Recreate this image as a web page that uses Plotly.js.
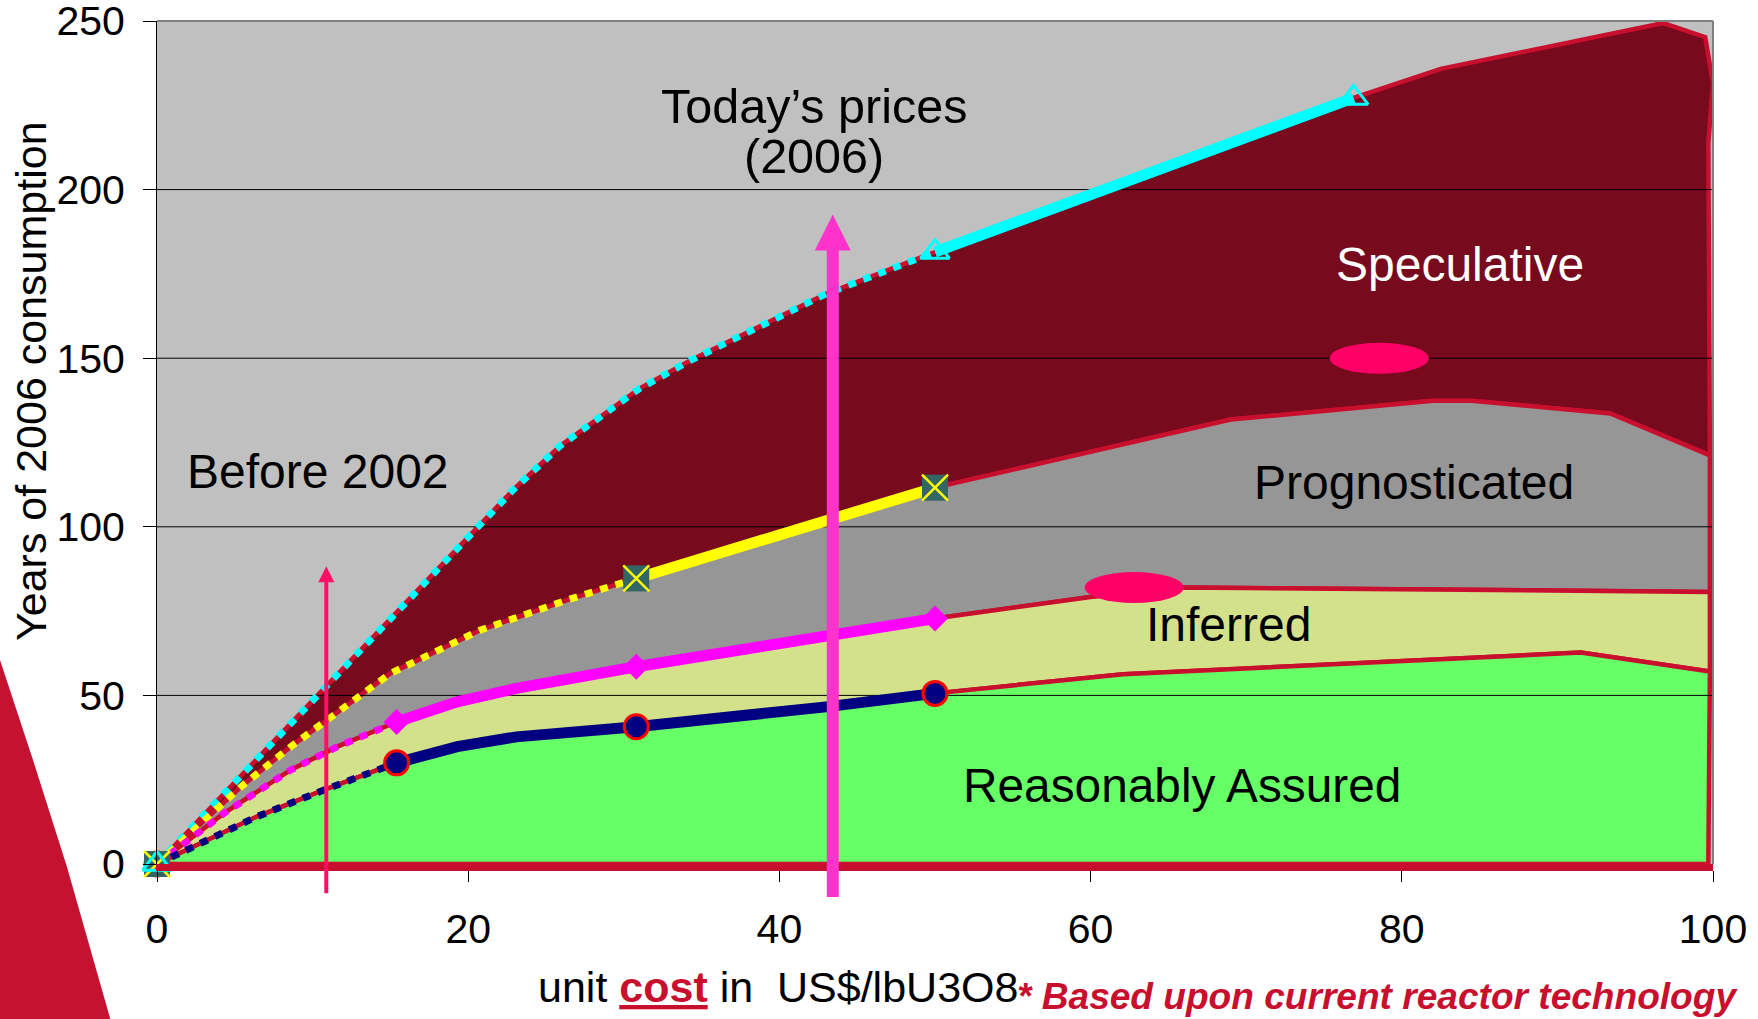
<!DOCTYPE html>
<html><head><meta charset="utf-8">
<script src="https://cdn.plot.ly/plotly-3.0.1.min.js"></script>
<style>html,body{margin:0;padding:0;background:#fff;} #chart{width:1758px;height:1019px;}</style>
</head><body><div id="chart"></div>
<script>
// ---------------- data ----------------
const xTicks = [0, 20, 40, 60, 80, 100];
const yTicks = [0, 50, 100, 150, 200, 250];
const gridYears = [50, 100, 150, 200];

// Reasonably Assured (blue, cumulative years)
const raX = [0, 6.4, 10.7, 15.4, 19.3, 23.1, 30.8, 43.0, 50.0];
const raY = [0, 14.0, 21.9, 30.0, 34.8, 37.7, 40.7, 46.6, 50.6];
const raMarkX = [0, 15.4, 30.8, 50.0];
const raExtX = [62.1, 91.5, 99.8];
const raExtY = [56.3, 62.7, 57.1];
const raBaseX = [0, 99.7];
const raBaseY = [0, 0];

// Inferred (magenta)
const infX = [0, 4.3, 8.6, 11.6, 15.4, 19.3, 23.1, 30.8, 50.0];
const infY = [0, 15.0, 27.9, 34.8, 42.1, 48.1, 52.1, 58.5, 72.8];
const infMarkX = [0, 15.4, 30.8, 50.0];
const infExtX = [60.0, 66.0, 81.8, 99.8];
const infExtY = [79.2, 82.0, 81.4, 80.7];

// Prognosticated (yellow)
const progX = [0, 5.4, 8.6, 15.0, 20.8, 23.0, 26.5, 30.8, 50.0];
const progY = [0, 22.9, 34.8, 56.5, 69.4, 73.0, 78.5, 84.7, 111.6];
const progMarkX = [0, 30.8, 50.0];
const progExtX = [69.0, 82.0, 84.5, 93.4, 99.8];
const progExtY = [131.8, 137.4, 137.4, 133.6, 121.2];

// Speculative (cyan)
const specX = [0, 7.5, 15.0, 22.9, 25.9, 31.0, 34.3, 43.0, 50.0, 76.9];
const specY = [0, 36.5, 73.0, 111.0, 124.0, 141.0, 149.4, 169.1, 181.5, 227.2];
const specMarkX = [0, 50.0, 76.9];
const specExtX = [82.5, 96.8, 99.5, 100.0, 99.7, 99.8];
const specExtY = [235.8, 249.4, 245.2, 231.5, 213.7, 121.2];

// price arrows (before 2002, today 2006) and highlight ellipses
const priceX = [10.88, 43.43];
const priceTopY = [88.3, 192.6];
const priceTailY = [-8.7, -9.8];
const ellipseX = [78.55, 62.8];
const ellipseY = [150.0, 82.0];

// ---------------- geometry helpers ----------------
const W = 1758, Hh = 1019;
const M = {l: 157, r: 45, t: 21, b: 155};
const PW = W - M.l - M.r, PH = Hh - M.t - M.b;
const XR = [0, 100], YR = [0, 250];
const pxX = px => (px - M.l) / PW;
const pxY = py => (M.t + PH - py) / PH;
const dX = x => (x - XR[0]) / (XR[1] - XR[0]);
const dY = y => (y - YR[0]) / (YR[1] - YR[0]);
const pxToDX = w => w / PW * (XR[1] - XR[0]);
const pxToDY = h => h / PH * (YR[1] - YR[0]);

const cat = (a, b) => a.concat(b);
const raTopX = cat(raX, raExtX), raTopY = cat(raY, raExtY);
const infTopX = cat(infX, infExtX), infTopY = cat(infY, infExtY);
const progTopX = cat(progX, progExtX), progTopY = cat(progY, progExtY);
const specTopX = cat(specX, specExtX), specTopY = cat(specY, specExtY);

function poly(tx, ty, lx, ly) {
  return {x: tx.concat(lx.slice().reverse()), y: ty.concat(ly.slice().reverse())};
}
const OUTLINE = '#C8102E';
function area(p, fill) {
  return {type: 'scatter', mode: 'lines', x: p.x, y: p.y, fill: 'toself',
    fillcolor: fill, line: {color: OUTLINE, width: 4.5}, hoverinfo: 'skip'};
}
function seg(x, y, x0, x1, color, dotted) {
  const xs = [], ys = [];
  x.forEach((v, i) => { if (v >= x0 - 1e-9 && v <= x1 + 1e-9) { xs.push(v); ys.push(y[i]); } });
  return {type: 'scatter', mode: 'lines', x: xs, y: ys, hoverinfo: 'skip',
    line: dotted ? {color: color, width: 7, dash: '8px,8px'} : {color: color, width: 11}};
}
function marks(x, y, mx, marker) {
  const ys = mx.map(v => y[x.findIndex(q => Math.abs(q - v) < 1e-9)]);
  return {type: 'scatter', mode: 'markers', x: mx, y: ys, marker: marker,
    cliponaxis: false, hoverinfo: 'skip'};
}

const gx = [], gy = [];
gridYears.forEach(g => { gx.push(XR[0], XR[1], null); gy.push(g, g, null); });

const traces = [
  area(poly(specTopX, specTopY, progTopX, progTopY), '#780A1E'),
  area(poly(progTopX, progTopY, infTopX, infTopY), '#969696'),
  area(poly(infTopX, infTopY, raTopX, raTopY), '#D3E18A'),
  area(poly(raTopX, raTopY, raBaseX, raBaseY), '#66FF66'),
  {type: 'scatter', mode: 'lines', x: gx, y: gy, line: {color: '#000', width: 1}, hoverinfo: 'skip'},
  seg(specX, specY, 0, 50, '#00FFFF', true),
  seg(progX, progY, 0, 30.8, '#FFFF00', true),
  seg(infX, infY, 0, 15.4, '#FF00FF', true),
  seg(raX, raY, 0, 15.4, '#000080', true),
  seg(specX, specY, 50, 76.9, '#00FFFF', false),
  seg(progX, progY, 30.8, 50, '#FFFF00', false),
  seg(infX, infY, 15.4, 50, '#FF00FF', false),
  seg(raX, raY, 15.4, 50, '#000080', false),
  marks(raX, raY, raMarkX, {symbol: 'circle', size: 24, color: '#000080', line: {color: '#FF0000', width: 3}}),
  marks(infX, infY, infMarkX, {symbol: 'diamond', size: 20, color: '#FF00FF', line: {width: 0}}),
  marks(progX, progY, progMarkX, {symbol: 'square', size: 26, color: '#336666', line: {width: 0}}),
  marks(progX, progY, progMarkX, {symbol: 'x-thin-open', size: 26, color: '#FFFF00', line: {color: '#FFFF00', width: 2.5}}),
  marks(specX, specY, specMarkX, {symbol: 'triangle-up-open', size: 25, color: '#00FFFF', line: {color: '#00FFFF', width: 3}})
];

// ---------------- shapes ----------------
const shapes = [];
// decorative corner band
const bandPx = [[0, 660], [33, 760], [67, 867], [112, 1025], [0, 1025]];
shapes.push({type: 'path', xref: 'paper', yref: 'paper', layer: 'above',
  path: 'M' + bandPx.map(p => pxX(p[0]) + ',' + pxY(p[1])).join('L') + 'Z',
  fillcolor: '#C41230', line: {width: 0}});
// borders top / right
shapes.push({type: 'line', xref: 'paper', yref: 'paper', x0: 0, x1: 1, y0: 1, y1: 1, line: {color: '#808080', width: 2}});
shapes.push({type: 'line', xref: 'paper', yref: 'paper', x0: 1, x1: 1, y0: 0, y1: 1, line: {color: '#808080', width: 2}});
// ellipses
const EW = pxToDX(99), EH = pxToDY(31);
ellipseX.forEach((cx, i) => shapes.push({type: 'circle', xref: 'x', yref: 'y', layer: 'above',
  x0: cx - EW / 2, x1: cx + EW / 2, y0: ellipseY[i] - EH / 2, y1: ellipseY[i] + EH / 2,
  fillcolor: '#FF0066', line: {width: 0}}));
// arrows
const arrowStyle = [{color: '#FF1066', shaft: 4, head: 16}, {color: '#FF33CC', shaft: 12, head: 36}];
priceX.forEach((x, i) => {
  const s = arrowStyle[i];
  const px = dX(x), tip = dY(priceTopY[i]), tail = dY(priceTailY[i]);
  const hw = s.head / 2 / PW, hh = s.head / PH;
  shapes.push({type: 'line', xref: 'paper', yref: 'paper', x0: px, x1: px, y0: tail, y1: tip - hh + 1 / PH,
    line: {color: s.color, width: s.shaft}});
  shapes.push({type: 'path', xref: 'paper', yref: 'paper',
    path: `M${px - hw},${tip - hh}L${px + hw},${tip - hh}L${px},${tip}Z`,
    fillcolor: s.color, line: {width: 0}});
});

// ---------------- annotations ----------------
const FONT = 'Liberation Sans, Arial, sans-serif';
function lab(text, x, y, size, color, extra) {
  return Object.assign({text: text, xref: 'paper', yref: 'paper', x: pxX(x), y: pxY(y),
    showarrow: false, xanchor: 'center', yanchor: 'middle',
    font: {family: FONT, size: size, color: color || '#000'}}, extra || {});
}
const annotations = [
  lab('Today’s prices', 814, 106.5, 48.5),
  lab('(2006)', 814, 155.5, 48.5),
  lab('Before 2002', 318, 472, 48),
  lab('Speculative', 1460, 264, 48, '#FFFFFF'),
  lab('Prognosticated', 1414, 482, 48),
  lab('Inferred', 1228, 624, 48),
  lab('Reasonably Assured', 1182, 785, 47.8),
  lab('Years of 2006 consumption', 31, 381, 43, '#000', {textangle: -90}),
  lab('unit <b><span style="color:#C8102E;text-decoration:underline">cost</span></b> in  US$/lbU3O8', 536, 987, 43, '#000', {xanchor: 'left'}),
  lab('<b><i>* Based upon current reactor technology</i></b>', 1740, 996, 37.1, '#C8102E', {xanchor: 'right'})
];

const layout = {
  width: W, height: Hh, margin: M, showlegend: false,
  paper_bgcolor: '#FFFFFF', plot_bgcolor: '#C0C0C0',
  font: {family: FONT, color: '#000'},
  xaxis: {range: XR, tickvals: xTicks, ticktext: xTicks.map(String), ticks: 'outside', ticklen: 11,
    tickcolor: '#000', tickwidth: 1, showgrid: false, zeroline: false, showline: true,
    linecolor: OUTLINE, linewidth: 7, tickfont: {family: FONT, size: 41, color: '#000'},
    ticklabelstandoff: 12, ticklabeloverflow: 'allow', automargin: false, fixedrange: true},
  yaxis: {range: YR, tickvals: yTicks, ticktext: yTicks.map(String), ticks: 'outside', ticklen: 13,
    tickcolor: '#000', tickwidth: 1, showgrid: false, zeroline: false, showline: true,
    linecolor: '#000', linewidth: 1, tickfont: {family: FONT, size: 41, color: '#000'},
    ticklabelstandoff: 10, ticklabeloverflow: 'allow', automargin: false, fixedrange: true},
  shapes: shapes, annotations: annotations
};
Plotly.newPlot('chart', traces, layout, {staticPlot: true, displayModeBar: false});
</script></body></html>
